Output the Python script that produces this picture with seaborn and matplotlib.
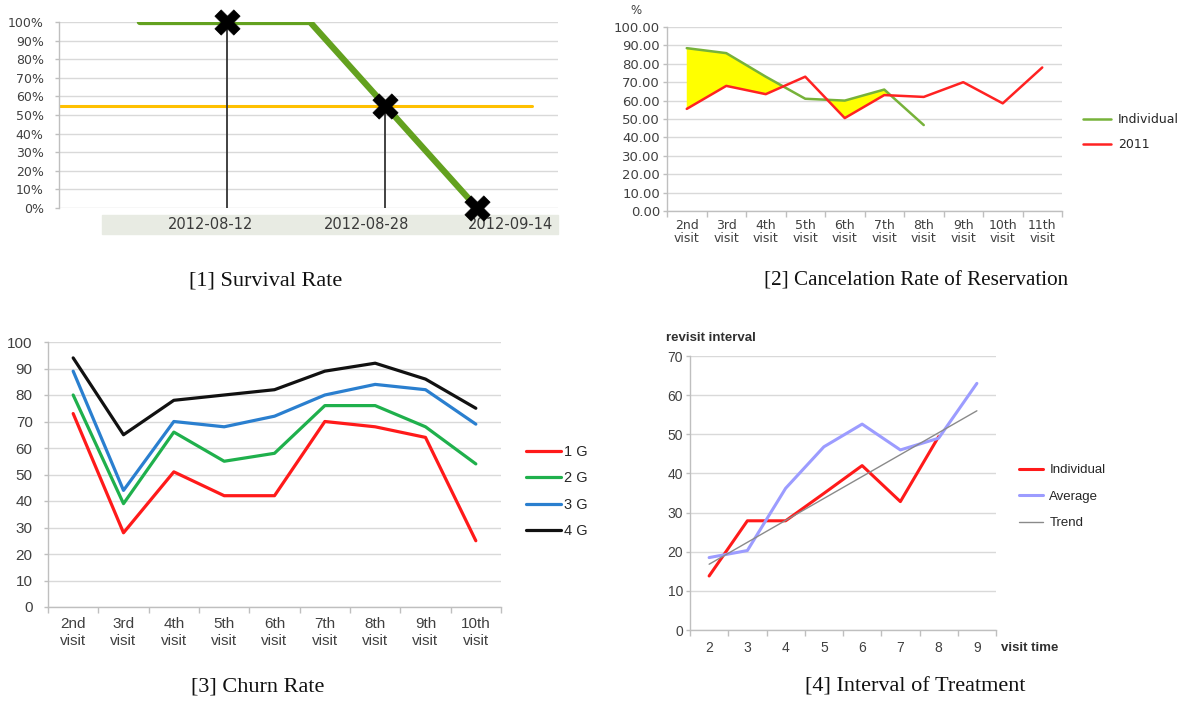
import matplotlib
matplotlib.use("Agg")
import matplotlib.pyplot as plt
import seaborn as sns
from matplotlib.patches import Rectangle
from matplotlib.ticker import FixedLocator, FormatStrFormatter, PercentFormatter

W, H = 1192, 701

# ---------------- data ----------------
# [1] Survival Rate (x = position along the time axis, arbitrary units 0..100)
surv_x = [16.2, 50.3, 83.8]
surv_y = [1.0, 1.0, 0.0]
mark_x = [33.7, 65.3, 83.8]
mark_y = [1.0, 0.55, 0.0]
ref_x = [0.0, 94.8]
ref_y = [0.55, 0.55]
date_labels = ["2012-08-12", "2012-08-28", "2012-09-14"]
date_pos = [30.3, 61.7, 90.4]

# [2] Cancelation Rate of Reservation
visits2 = ["2nd\nvisit", "3rd\nvisit", "4th\nvisit", "5th\nvisit", "6th\nvisit",
           "7th\nvisit", "8th\nvisit", "9th\nvisit", "10th\nvisit", "11th\nvisit"]
indiv2 = [88.5, 85.8, 73.0, 61.0, 60.0, 66.0, 46.7]
y2011 = [55.5, 68.0, 63.5, 73.0, 50.5, 63.0, 62.0, 70.0, 58.5, 78.0]

# [3] Churn Rate
visits3 = ["2nd\nvisit", "3rd\nvisit", "4th\nvisit", "5th\nvisit", "6th\nvisit",
           "7th\nvisit", "8th\nvisit", "9th\nvisit", "10th\nvisit"]
g1 = [73, 28, 51, 42, 42, 70, 68, 64, 25]
g2 = [80, 39, 66, 55, 58, 76, 76, 68, 54]
g3 = [89, 44, 70, 68, 72, 80, 84, 82, 69]
g4 = [94, 65, 78, 80, 82, 89, 92, 86, 75]
group_names = ["1 G", "2 G", "3 G", "4 G"]

# [4] Interval of Treatment
visit_time = [2, 3, 4, 5, 6, 7, 8, 9]
indiv4 = [13.8, 27.9, 27.9, 34.9, 42.0, 32.8, 49.4]
avg4 = [18.5, 20.3, 36.2, 46.8, 52.6, 46.0, 49.0, 63.0]
trend_x = [2, 9]
trend_y = [16.8, 56.0]

# ---------------- figure ----------------
sns.set_theme(style="white")
plt.rcParams['font.family'] = ['Liberation Sans', 'DejaVu Sans']
fig = plt.figure(figsize=(W / 100, H / 100), dpi=100)

GRID = '#d9d9d9'
AXC = '#bfbfbf'
TXT = '#404040'


def ax_at(l, t, r, b):
    return fig.add_axes([l / W, 1 - b / H, (r - l) / W, (b - t) / H])


def base_style(ax, fs, fam, pad=2):
    ax.set_facecolor('white')
    ax.yaxis.grid(True, color=GRID, lw=1)
    ax.xaxis.grid(False)
    ax.set_axisbelow(True)
    for s in ['top', 'right']:
        ax.spines[s].set_visible(False)
    for s in ['left', 'bottom']:
        ax.spines[s].set_color(AXC)
        ax.spines[s].set_linewidth(1)
    ax.tick_params(axis='y', left=True, length=3, width=1, color=AXC,
                   labelsize=fs, labelcolor=TXT, pad=pad)
    for lab in ax.get_yticklabels():
        lab.set_family(fam)
    ax.set_xlabel('')
    ax.set_ylabel('')


def cat_axis(ax, labels, fs, fam, ls, pad):
    n = len(labels)
    ax.set_xlim(-0.5, n - 0.5)
    ax.set_xticks(range(n))
    ax.set_xticklabels(labels, fontsize=fs, color=TXT, family=fam, linespacing=ls)
    ax.xaxis.set_minor_locator(FixedLocator([i - 0.5 for i in range(n + 1)]))
    ax.tick_params(axis='x', which='major', bottom=True, length=0, pad=pad)
    ax.tick_params(axis='x', which='minor', bottom=True, length=4, width=1, color=AXC)


# ---------- [1] ----------
ax1 = ax_at(59, 22, 558, 208)
ax1.set_xlim(0, 100)
ax1.set_ylim(0, 1)
ax1.set_yticks([i / 10 for i in range(11)])
ax1.yaxis.set_major_formatter(PercentFormatter(1.0, decimals=0))
sns.lineplot(x=ref_x, y=ref_y, ax=ax1, color='#ffc000', lw=2.2)
sns.lineplot(x=surv_x, y=surv_y, ax=ax1, color='#63a11f', lw=4.5, sort=False)
ax1.vlines(mark_x[:2], 0, mark_y[:2], color='#333333', lw=1.3, zorder=3)
sns.scatterplot(x=mark_x, y=mark_y, ax=ax1, marker='X', s=330, color='black',
                edgecolor='black', linewidth=0.5, zorder=6)
ax1.collections[-1].set_clip_on(False)
base_style(ax1, 9, 'DejaVu Sans', pad=8)
ax1.set_xticks([])
ax1.spines['bottom'].set_visible(False)
tr = ax1.get_xaxis_transform()
ax1.add_patch(Rectangle((8.6, -0.14), 91.4, 0.10, transform=tr, color='#e8ebe3',
                        clip_on=False, zorder=0))
for lab, p in zip(date_labels, date_pos):
    ax1.text(p, -0.09, lab, transform=tr, ha='center', va='center', fontsize=10.5,
             color='#3a3a3a', family='DejaVu Sans')

# ---------- [2] ----------
ax2 = ax_at(667, 27, 1062, 211)
x2a = list(range(len(indiv2)))
x2b = list(range(len(y2011)))
ax2.fill_between(x2a, indiv2, y2011[:len(indiv2)],
                 where=[a > b for a, b in zip(indiv2, y2011)], interpolate=True,
                 color='#ffff00', lw=0, zorder=1)
sns.lineplot(x=x2a, y=indiv2, ax=ax2, color='#77b23a', lw=1.8, label='Individual')
sns.lineplot(x=x2b, y=y2011, ax=ax2, color='#ff2222', lw=1.8, label='2011')
ax2.set_ylim(0, 100)
ax2.set_yticks(range(0, 101, 10))
ax2.yaxis.set_major_formatter(FormatStrFormatter('%.2f'))
base_style(ax2, 9.5, 'DejaVu Sans')
cat_axis(ax2, visits2, 9, 'DejaVu Sans', 0.95, 6)
ax2.legend(loc='upper left', bbox_to_anchor=(1083 / W, 1 - 113 / H),
           bbox_transform=fig.transFigure, frameon=False,
           handlelength=2.2, handletextpad=0.6, labelspacing=1.0, borderpad=0,
           borderaxespad=0, prop={'family': 'DejaVu Sans', 'size': 9})
fig.text(636 / W, 1 - 11 / H, '%', ha='center', va='center', fontsize=8.5,
         color=TXT, family='DejaVu Sans')

# ---------- [3] ----------
ax3 = ax_at(48, 342, 501, 607)
x3 = list(range(len(visits3)))
for vals, col, name in zip([g1, g2, g3, g4],
                           ['#ff1a1a', '#1fb04c', '#2a7fcf', '#111111'], group_names):
    sns.lineplot(x=x3, y=vals, ax=ax3, color=col, lw=2.3, label=name)
ax3.set_ylim(0, 100)
ax3.set_yticks(range(0, 101, 10))
base_style(ax3, 11, 'Liberation Sans', pad=8)
cat_axis(ax3, visits3, 11, 'Liberation Sans', 1.2, 7.5)
ax3.legend(loc='upper left', bbox_to_anchor=(526 / W, 1 - 445 / H),
           bbox_transform=fig.transFigure, frameon=False,
           handlelength=2.4, handletextpad=0.2, labelspacing=0.85, borderpad=0,
           borderaxespad=0, prop={'family': 'Liberation Sans', 'size': 10.5})

# ---------- [4] ----------
ax4 = ax_at(690, 356, 996, 630)
sns.lineplot(x=visit_time[:len(indiv4)], y=indiv4, ax=ax4, color='#ff1a1a', lw=2.2,
             label='Individual')
sns.lineplot(x=visit_time, y=avg4, ax=ax4, color='#9c9cff', lw=2.2, label='Average')
sns.lineplot(x=trend_x, y=trend_y, ax=ax4, color='#8a8a8a', lw=1.0, label='Trend')
ax4.set_ylim(0, 70)
ax4.set_yticks(range(0, 71, 10))
base_style(ax4, 10, 'Liberation Sans')
ax4.set_xlim(1.5, 9.5)
ax4.set_xticks(visit_time)
ax4.set_xticklabels([str(v) for v in visit_time], fontsize=10, color=TXT)
ax4.xaxis.set_minor_locator(FixedLocator([v - 0.5 for v in visit_time] + [9.5]))
ax4.tick_params(axis='x', which='major', bottom=True, length=0, pad=8)
ax4.tick_params(axis='x', which='minor', bottom=True, length=4, width=1, color=AXC)
ax4.legend(loc='upper left', bbox_to_anchor=(1019 / W, 1 - 464 / H),
           bbox_transform=fig.transFigure, frameon=False,
           handlelength=1.8, handletextpad=0.5, labelspacing=1.08, borderpad=0,
           borderaxespad=0, prop={'family': 'Liberation Sans', 'size': 9.5})
fig.text(666 / W, 1 - 338 / H, 'revisit interval', ha='left', va='center',
         fontsize=9.5, fontweight='bold', color='#303030')
fig.text(1001 / W, 1 - 648 / H, 'visit time', ha='left', va='center',
         fontsize=9.5, fontweight='bold', color='#303030')

# ---------- captions ----------
cap = dict(ha='center', va='center', color='#111111', family='Liberation Serif')
fig.text(266 / W, 1 - 281 / H, '[1] Survival Rate', fontsize=16, **cap)
fig.text(916 / W, 1 - 281 / H, '[2] Cancelation Rate of Reservation', fontsize=15.2, **cap)
fig.text(258 / W, 1 - 687 / H, '[3] Churn Rate', fontsize=16, **cap)
fig.text(915 / W, 1 - 687 / H, '[4] Interval of Treatment', fontsize=16, **cap)

fig.savefig('out.png', dpi=100, facecolor='white')
